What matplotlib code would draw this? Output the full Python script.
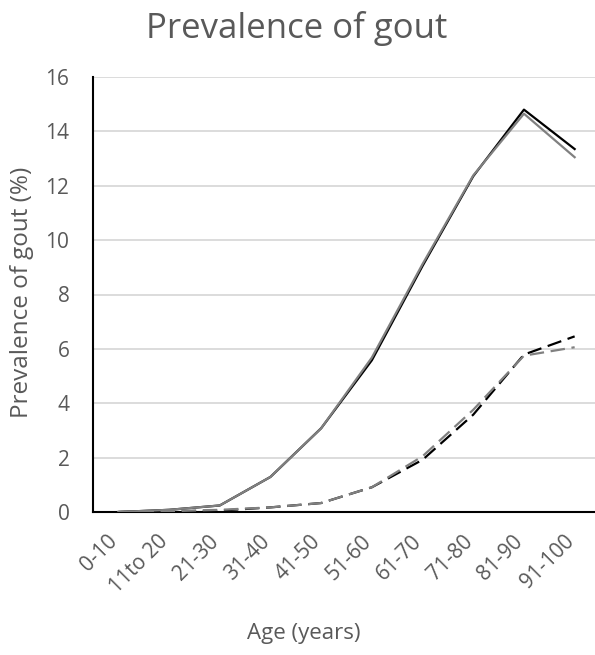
import matplotlib
matplotlib.use("Agg")
import matplotlib.pyplot as plt
from matplotlib.transforms import ScaledTranslation

ages = ["0-10", "11to 20", "21-30", "31-40", "41-50", "51-60", "61-70", "71-80", "81-90", "91-100"]
solid_black = [0.0, 0.08, 0.24, 1.29, 3.08, 5.58, 9.05, 12.35, 14.80, 13.35]
solid_grey = [0.0, 0.08, 0.24, 1.29, 3.08, 5.68, 9.12, 12.38, 14.65, 13.05]
dash_black = [0.0, 0.02, 0.05, 0.17, 0.33, 0.91, 1.92, 3.58, 5.79, 6.46]
dash_grey = [0.0, 0.03, 0.08, 0.17, 0.33, 0.91, 2.05, 3.76, 5.75, 6.06]

TXT = "#595959"
plt.rcParams["font.family"] = ["Open Sans", "DejaVu Sans"]

fig = plt.figure(figsize=(5.95, 6.55), dpi=100)
# plot area: x 93..600 px, y 77..512 px
ax = fig.add_axes([93 / 595, 1 - 512 / 655, 507 / 595, 435 / 655])

x = range(len(ages))
dash = (0, (6.5, 3))
ax.plot(x, solid_black, color="black", lw=1.6, zorder=3)
ax.plot(x, solid_grey, color="#808080", lw=1.6, zorder=4)
ax.plot(x, dash_black, color="black", lw=1.6, ls=dash, zorder=3)
ax.plot(x, dash_grey, color="#808080", lw=1.6, ls=dash, zorder=4)

ax.set_xlim(-0.5, len(ages) - 0.5)
ax.set_ylim(0, 16)
ax.set_yticks(range(0, 17, 2))
ax.set_xticks(list(x))
ax.set_xticklabels(ages, rotation=45, ha="right", va="center", rotation_mode="anchor")
ax.grid(axis="y", color="#d9d9d9", lw=1.3, zorder=0)
ax.set_axisbelow(True)
for s in ("top", "right"):
    ax.spines[s].set_visible(False)
for s in ("left", "bottom"):
    ax.spines[s].set_color("black")
    ax.spines[s].set_linewidth(1.5)
ax.tick_params(length=0, labelsize=15, labelcolor=TXT)
ax.tick_params(axis="y", pad=17)
ax.tick_params(axis="x", pad=19)
shift = ScaledTranslation(-4 / 100, 0, fig.dpi_scale_trans)
for lab in ax.get_xticklabels():
    lab.set_transform(lab.get_transform() + shift)

fig.text(22 / 595, 1 - 292 / 655, "Prevalence of gout (%)", fontsize=17.5, color=TXT,
         rotation=90, ha="center", va="center")
fig.text(304 / 595, 1 - 634 / 655, "Age (years)", fontsize=16, color=TXT,
         ha="center", va="center")
fig.text(297 / 595, 1 - 28 / 655, "Prevalence of gout", fontsize=25, color=TXT,
         ha="center", va="center")

fig.savefig("out.png", dpi=100, facecolor="white")
